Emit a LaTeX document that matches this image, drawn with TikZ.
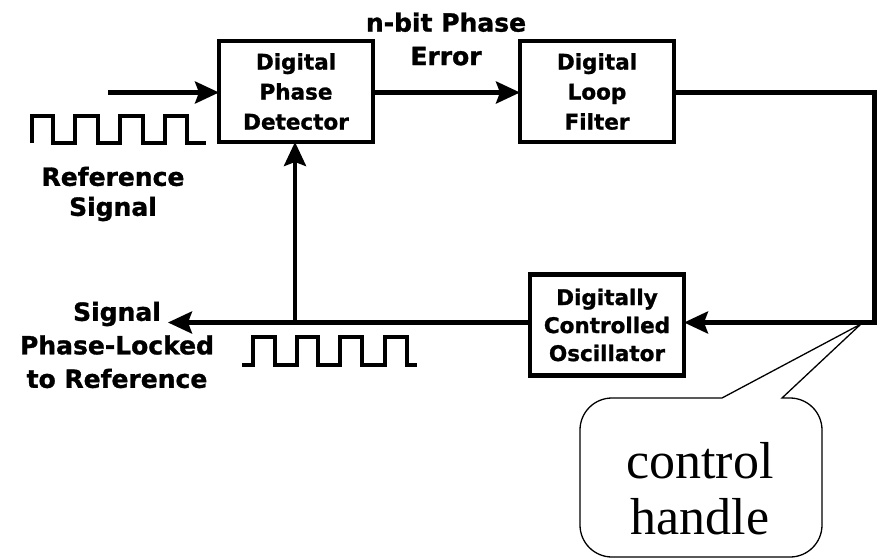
\documentclass[tikz,border=0pt]{standalone}
\usepackage{fontspec}
\usetikzlibrary{arrows.meta}
\newfontfamily\lblfamily{DejaVu Sans}[BoldFeatures={FakeBold=1.2}]
\newfontfamily\notefamily{Liberation Serif}

\tikzset{
  blk/.style={draw, line width=4.5pt, inner sep=0pt, outer sep=0pt, align=center,
    minimum width=154pt, minimum height=101pt,
    font=\lblfamily\bfseries\fontsize{21.5}{30}\selectfont},
  dcoblk/.style={blk, font=\lblfamily\bfseries\fontsize{21.5}{28}\selectfont},
  lbl/.style={inner sep=0pt, align=center,
    font=\lblfamily\bfseries\fontsize{25}{30}\selectfont},
  widelbl/.style={lbl, font=\lblfamily\bfseries\fontsize{25}{33.5}\selectfont},
  sigarrow/.style={line width=4.2pt, -{Stealth[length=24pt, width=22pt, inset=4pt]}},
  wave/.style={line width=3.8pt, line join=miter, line cap=butt},
  bubble/.style={line width=1.3pt, line join=miter},
  notetext/.style={inner sep=0pt, align=center,
    font=\notefamily\fontsize{52}{56}\selectfont}
}

\begin{document}
\begin{tikzpicture}[x=1pt, y=-1pt]
  \useasboundingbox (0,0) rectangle (879,558);

  % blocks of the loop
  \node[blk] (pd) at (296,91.5) {Digital\\Phase\\Detector};
  \node[blk] (lf) at (597,91.5) {Digital\\Loop\\Filter};
  \node[dcoblk] (dco) at (607,325) {Digitally\\Controlled\\Oscillator};

  % labels
  \node[lbl] (reflbl) at (113,194) {Reference\\Signal};
  \node[widelbl] (errlbl) at (446,39) {n-bit Phase\\Error};
  \node[widelbl] (outlbl) at (117,345) {Signal\\Phase-Locked\\to Reference};

  % connector end points
  \coordinate (inref) at (108,92.5);
  \coordinate (rc) at (874.5,92.5);
  \coordinate (fb) at (874.5,322.5);
  \coordinate (outtip) at (168,322.5);
  \coordinate (tap) at (295,322.5);

  % connectors
  \draw[sigarrow] (inref) -- (inref -| pd.west);
  \draw[sigarrow] (pd.east |- inref) -- (lf.west |- inref);
  \draw[sigarrow] (lf.east |- rc) -- (rc) -- (fb) -- (fb -| dco.east);
  \draw[sigarrow] (dco.west |- fb) -- (outtip);
  \draw[sigarrow] (tap) -- (tap |- pd.south);

  % reference square wave
  \draw[wave] (32,143) -- (32,116) -- (53,116) -- (53,143) -- (75,143) -- (75,116)
    -- (98,116) -- (98,143) -- (120,143) -- (120,116) -- (143,116) -- (143,143)
    -- (165,143) -- (165,116) -- (187,116) -- (187,143) -- (206,143);

  % output square wave
  \draw[wave] (242,365) -- (253,365) -- (253,337) -- (275,337) -- (275,365)
    -- (297,365) -- (297,337) -- (318,337) -- (318,365) -- (340,365) -- (340,337)
    -- (362,337) -- (362,365) -- (385,365) -- (385,337) -- (407,337) -- (407,365)
    -- (417,365);

  % speech bubble (y axis points down, so angles run clockwise)
  \coordinate (ctip) at (861,324);
  \draw[bubble, fill=white] (722,398) -- (ctip) -- (782,398) -- (790,398)
    arc[start angle=270, end angle=360, radius=32] -- (822,525)
    arc[start angle=0, end angle=90, radius=32] -- (612,557)
    arc[start angle=90, end angle=180, radius=32] -- (580,430)
    arc[start angle=180, end angle=270, radius=32] -- cycle;
  \node[notetext] (note) at (700,489) {control\\handle};
\end{tikzpicture}
\end{document}
